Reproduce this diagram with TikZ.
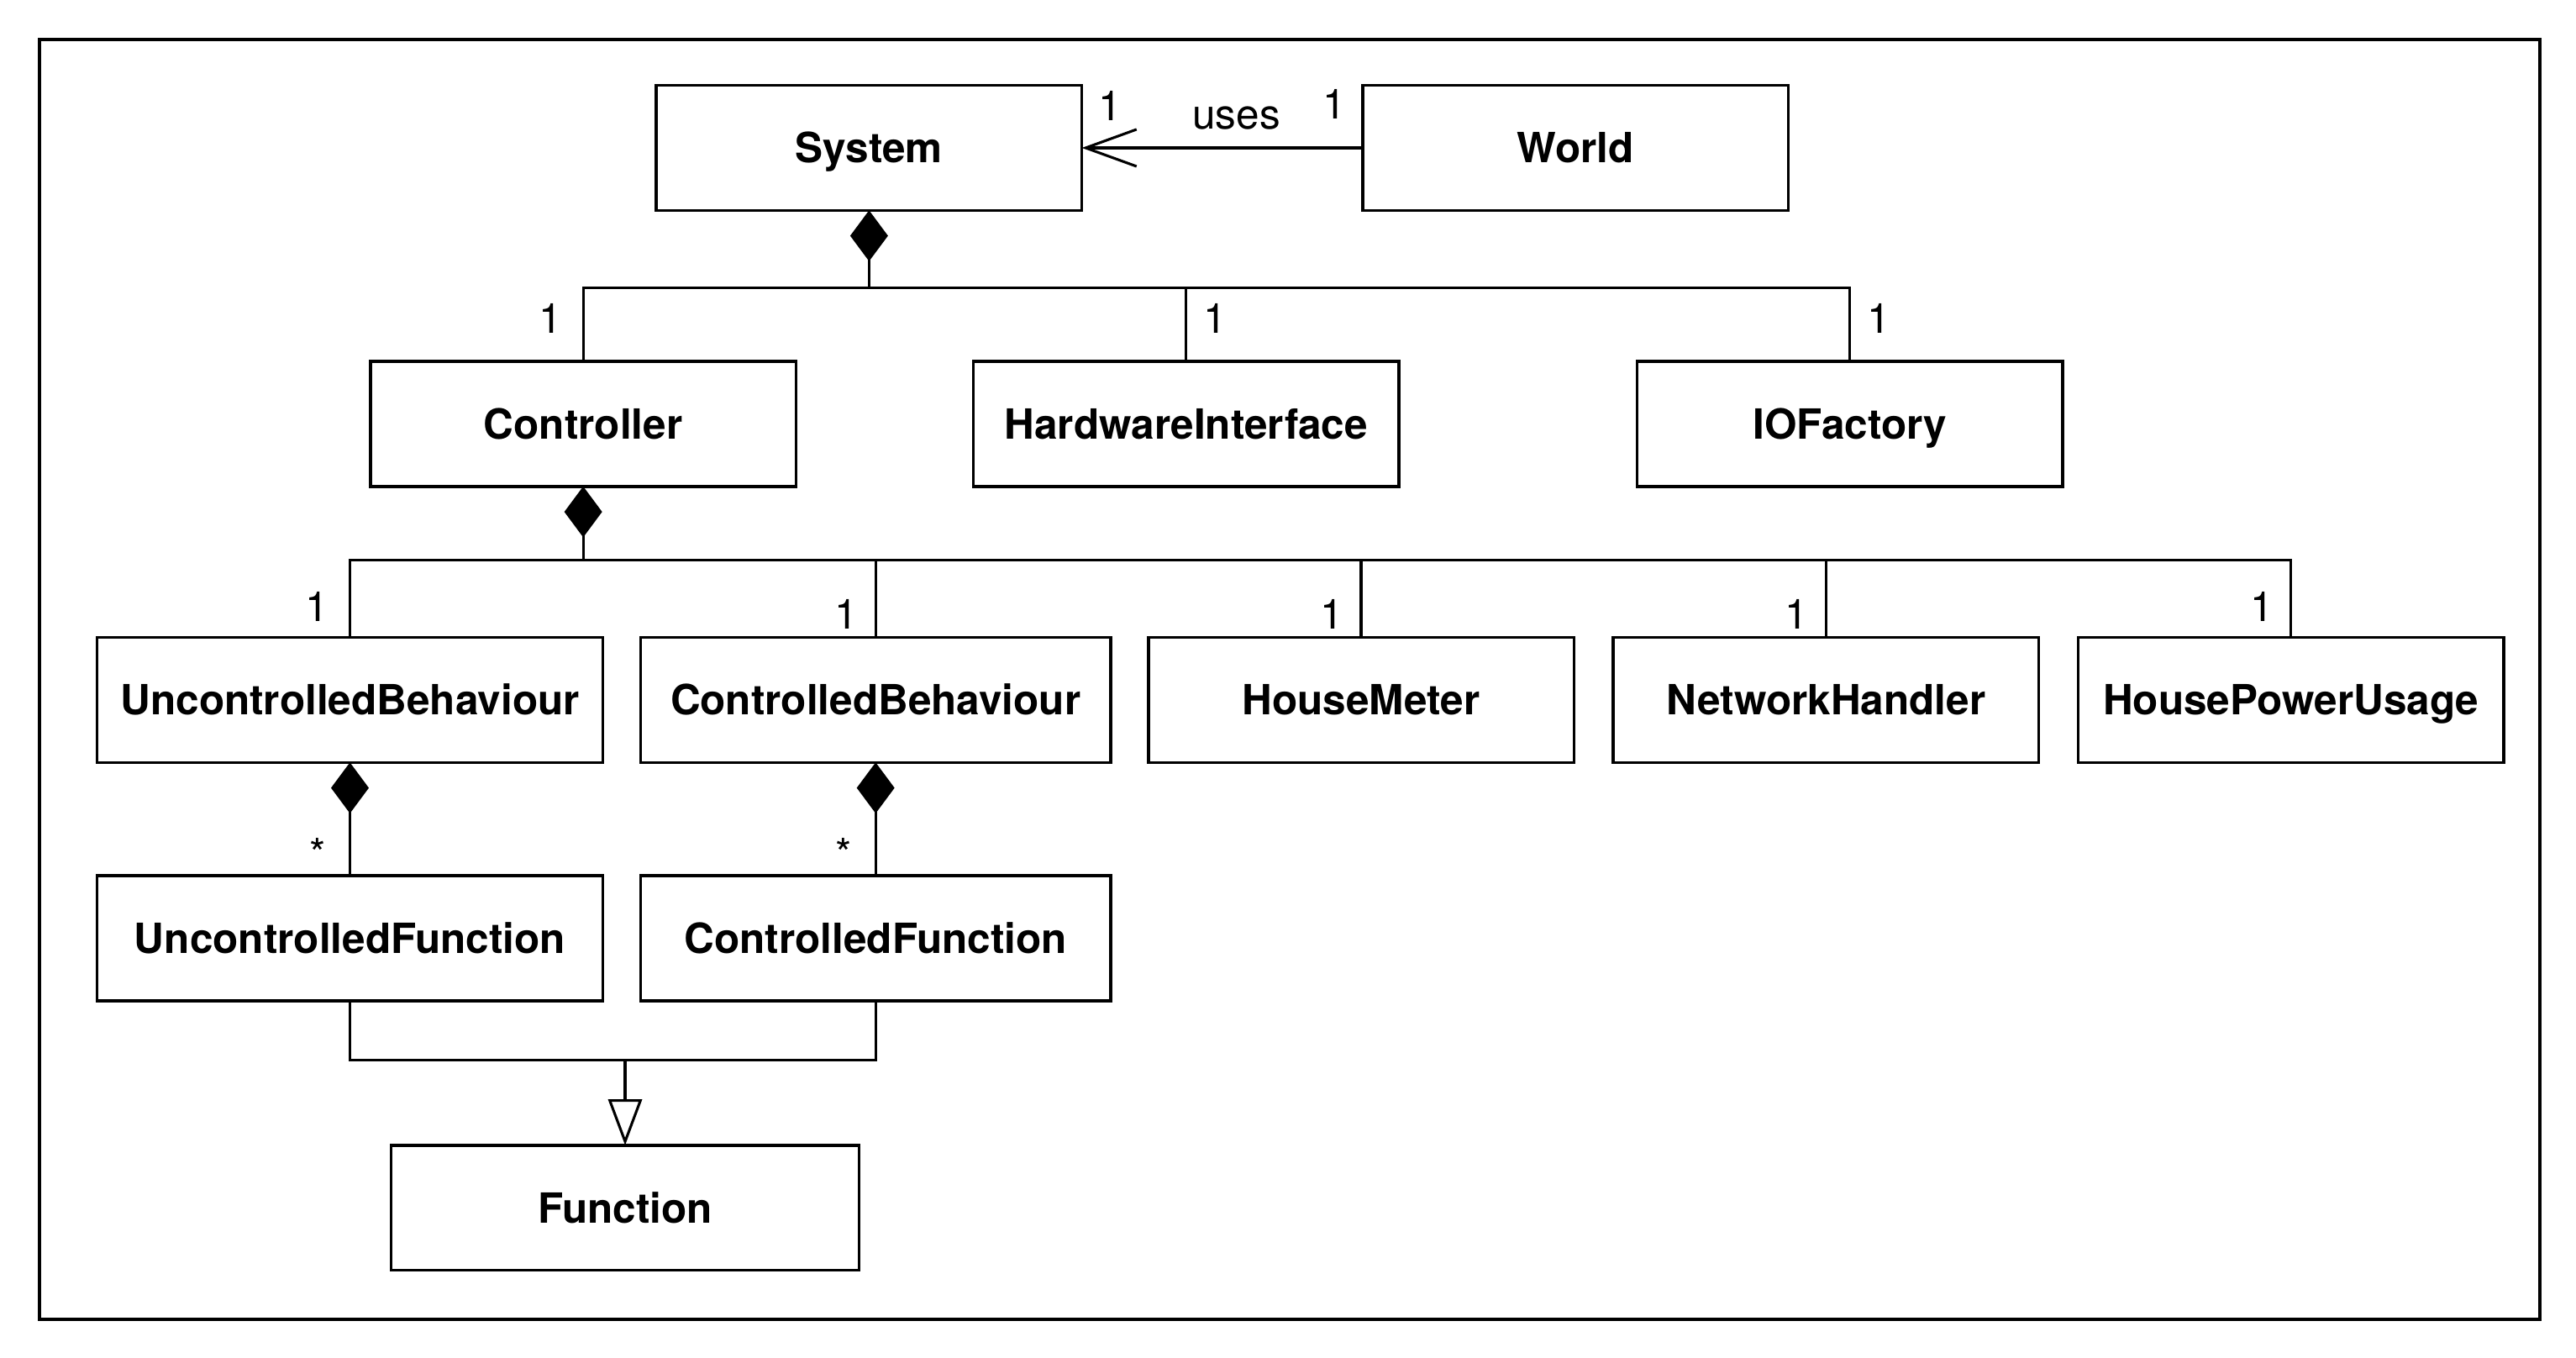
\documentclass[tikz,border=0pt]{standalone}
\usepackage{fontspec}
\setmainfont{TeX Gyre Heros}
\usetikzlibrary{positioning,arrows.meta,calc}

\begin{document}
\begin{tikzpicture}[font=\fontsize{14.4}{17}\selectfont,
	cls/.style={draw,line width=1pt,minimum width=5.18cm,minimum height=1.52cm,inner sep=0pt,outer sep=0pt,text height=10.4pt,text depth=0pt,font=\fontsize{14.4}{17}\selectfont\bfseries},
	link/.style={line width=0.9pt},
	comp/.style={link,{Diamond[length=0.62cm,width=0.46cm]}-},
	uses/.style={link,-{Straight Barb[length=0.62cm,width=0.45cm]}},
	gen/.style={link,-{Triangle[open,length=0.56cm,width=0.41cm]}},
	mult/.style={inner sep=0pt}]
	\useasboundingbox (0,0) rectangle (31.36,-16.52);
	\draw[line width=1pt] (0.48,-0.48) rectangle (30.92,-16.06);

	\node[cls] (sys) at (10.58,-1.80) {System};
	\node[cls,right=3.42cm of sys] (world) {World};
	\draw[uses] (world) -- (sys)
		node[mult,pos=0.45,above=0.21cm] {uses}
		node[mult,pos=0.9,above=0.32cm] {1}
		node[mult,pos=0.1,above=0.34cm] {1};

	\node[cls] (ctrl) at (7.10,-5.16) {Controller};
	\node[cls,right=2.16cm of ctrl] (hw) {HardwareInterface};
	\node[cls,right=2.90cm of hw] (iof) {IOFactory};
	\coordinate (sysbus) at ($(sys.south)+(0,-0.94)$);
	\draw[comp] (sys.south) -- (sysbus) -| (ctrl.north) node[mult,pos=0.71,left=0.24cm] {1};
	\draw[link] (sysbus) -| (hw.north) node[mult,pos=0.71,right=0.2cm] {1};
	\draw[link] (sysbus) -| (iof.north) node[mult,pos=0.71,right=0.2cm] {1};

	\node[cls,minimum width=6.16cm] (ub) at (4.26,-8.52) {UncontrolledBehaviour};
	\node[cls,minimum width=5.72cm,right=0.46cm of ub] (cb) {ControlledBehaviour};
	\node[cls,right=0.46cm of cb] (hm) {HouseMeter};
	\node[cls,right=0.48cm of hm] (nh) {NetworkHandler};
	\node[cls,right=0.48cm of nh] (hpu) {HousePowerUsage};
	\coordinate (ctrlbus) at ($(ctrl.south)+(0,-0.9)$);
	\draw[comp] (ctrl.south) -- (ctrlbus) -| (ub.north) node[mult,pos=0.8,left=0.24cm] {1};
	\draw[link] (ctrlbus) -| (cb.north) node[mult,pos=0.85,left=0.2cm] {1};
	\draw[link] (ctrlbus) -| (hm.north) node[mult,pos=0.85,left=0.2cm] {1};
	\draw[link] (ctrlbus) -| (nh.north) node[mult,pos=0.85,left=0.2cm] {1};
	\draw[link] (ctrlbus) -| (hpu.north) node[mult,pos=0.8,left=0.2cm] {1};

	\node[cls,minimum width=6.16cm,below=1.38cm of ub] (uf) {UncontrolledFunction};
	\node[cls,minimum width=5.72cm,below=1.38cm of cb] (cf) {ControlledFunction};
	\draw[comp] (ub.south) -- (uf.north) node[mult,pos=0.8,left=0.28cm] {*};
	\draw[comp] (cb.south) -- (cf.north) node[mult,pos=0.8,left=0.28cm] {*};

	\node[cls,minimum width=5.70cm] (func) at (7.61,-14.70) {Function};
	\coordinate (funcbus) at ($(uf.south)+(0,-0.72)$);
	\coordinate (funcjoin) at (funcbus -| func.north);
	\draw[link] (uf.south) -- (funcbus) -| (cf.south);
	\draw[gen] (funcjoin) -- (func.north);
\end{tikzpicture}
\end{document}
